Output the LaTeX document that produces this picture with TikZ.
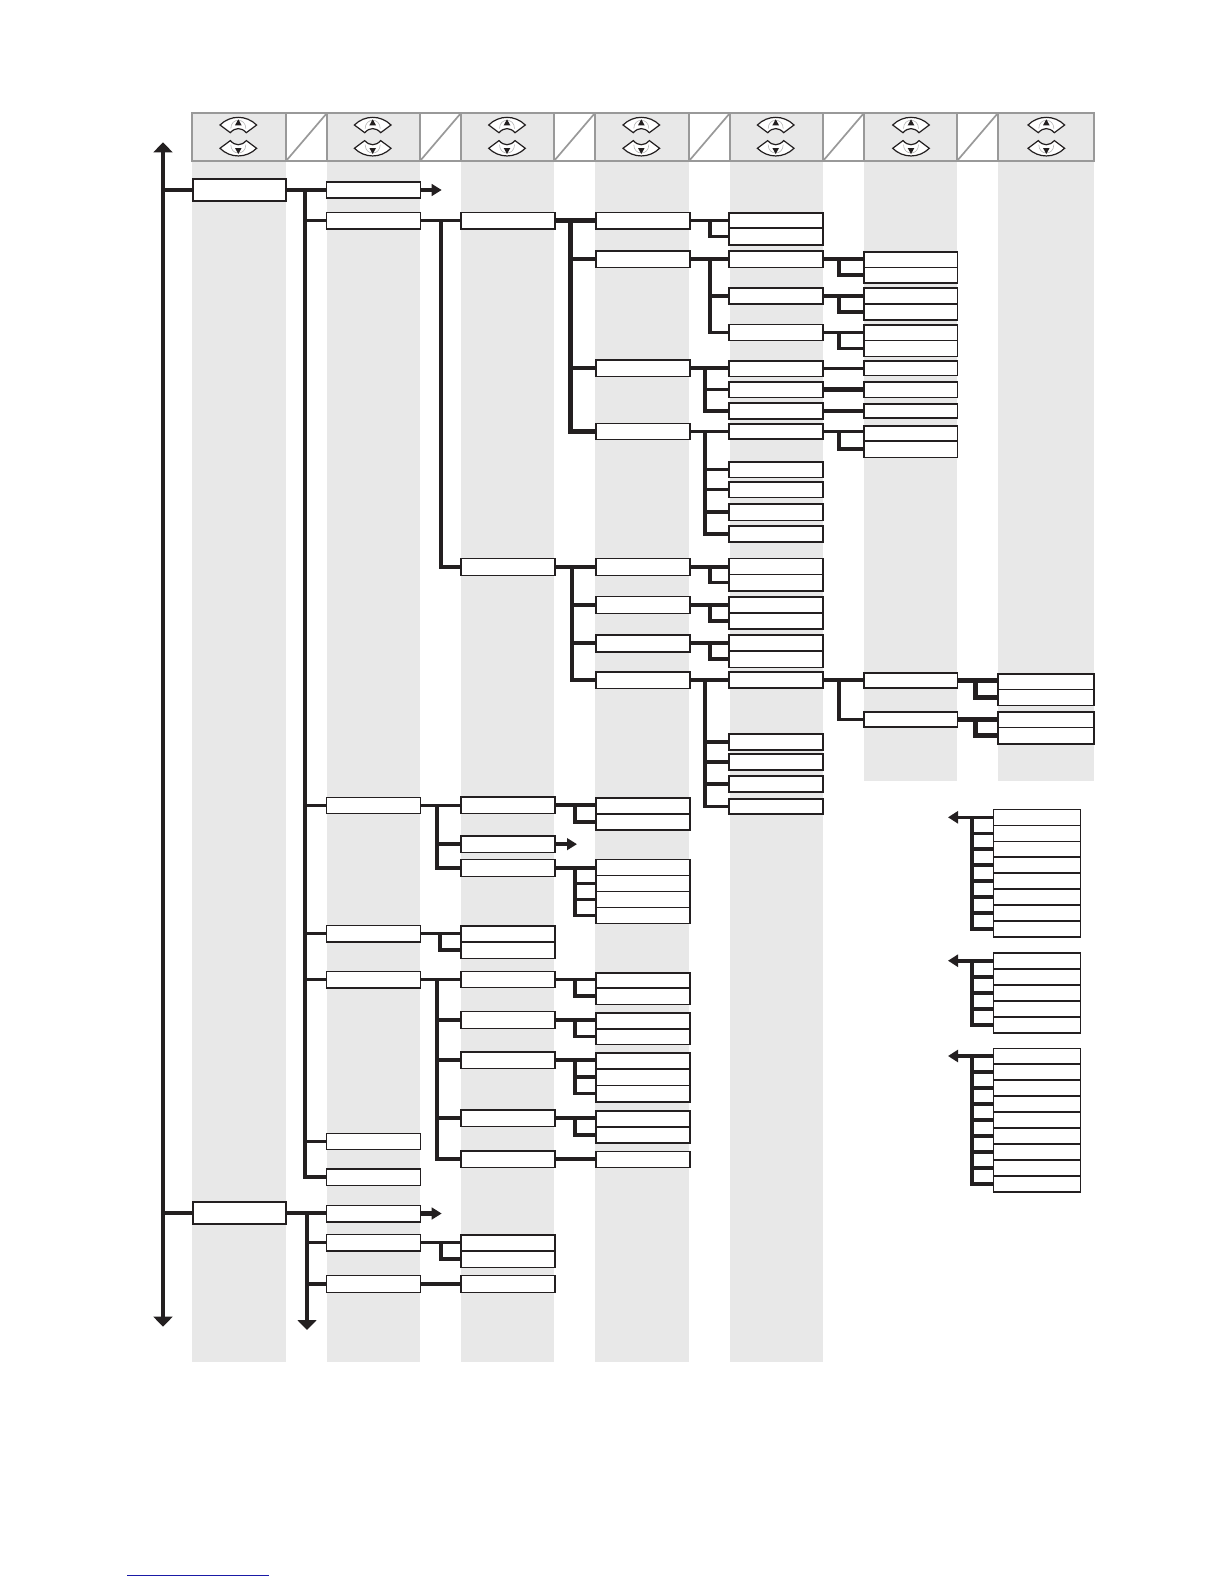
\documentclass[tikz,border=0pt]{standalone}
\usetikzlibrary{arrows.meta,calc}
\definecolor{ink}{HTML}{231F20}
\definecolor{band}{HTML}{E8E8E8}
\definecolor{rule}{HTML}{999999}
\definecolor{linkblue}{HTML}{1A1AA6}
% column edges (px)
\def\xAl{193}\def\xAr{286}
\def\xBl{326.3}\def\xBr{420.3}
\def\xCl{461}\def\xCr{554.7}
\def\xDl{596}\def\xDr{690}
\def\xEl{729}\def\xEr{823}
\def\xFl{864}\def\xFr{957.5}
\def\xGl{998}\def\xGr{1094}
\def\xRl{993.3}\def\xRr{1080.5}
\tikzset{
  cellbox/.style={draw=ink,fill=white,line width=.8pt,inner sep=0pt,outer sep=0pt},
  wire/.style={draw=ink,line width=1.8pt},
  heavy/.style={line width=2.3pt},
  bandfill/.style={fill=band,draw=none},
  headrule/.style={draw=rule,line width=.85pt},
  bighead/.style={-{Triangle[length=5pt,width=9.4pt]}},
  smallhead/.style={-{Triangle[length=5pt,width=5.8pt]}},
}
\newcommand{\cell}[4]{%
  \node[cellbox,
    minimum width={(\csname x#2r\endcsname-\csname x#2l\endcsname)*0.5pt},
    minimum height={(#4-#3)*0.5pt}]
    (#1) at ({(\csname x#2l\endcsname+\csname x#2r\endcsname)/2},{(#3+#4)/2}) {};}
\newcommand{\fan}[4][]{%
  \coordinate (T) at (#3,0);
  \foreach \ch [count=\n] in {#4} {%
    \ifnum\n=1
      \draw[wire,#1] (#2.east) -- (#2.east -| \ch.west);
    \else
      \draw[wire,#1] (T |- #2.east) |- (\ch.west);
    \fi}}
\newcommand{\straight}[3][]{\draw[wire,#1] (#2.east) -- (#2.east -| #3.west);}
\newcommand{\leftfan}[3]{%
  \coordinate (T) at (#2,0);
  \foreach \ch in {#3} {\draw[wire] (T |- #1.west) |- (\ch.west);}}
\newcommand{\fanshape}{%
  \fill[white] (-18.3,0) .. controls (-8,-10.2) and (8,-10.2) .. (18.3,0)
    -- (8,7.7) .. controls (3,2.2) and (-3,2.2) .. (-8,7.7) -- cycle;
  \draw[rule!70,line width=.3pt] (-7.5,3.6) .. controls (-7.5,-7.5) and (7.5,-7.5) .. (7.5,3.6);
  \draw[ink,line width=.6pt,line join=miter] (-18.3,0) .. controls (-8,-10.2) and (8,-10.2) .. (18.3,0)
    -- (8,7.7) .. controls (3,2.2) and (-3,2.2) .. (-8,7.7) -- cycle;
  \fill[ink] (0,-5.7) -- (3.3,.3) -- (-3.3,.3) -- cycle;}
\newcommand{\keypair}[1]{%
  \begin{scope}[shift={(#1,125)}]\fanshape\end{scope}
  \begin{scope}[shift={(#1,148.3)},yscale=-1]\fanshape\end{scope}}
\begin{document}
\begin{tikzpicture}[x=0.5pt,y=-0.5pt]
\useasboundingbox (0,0) rectangle (1224,1584);
% grey column bands
\foreach \l/\r in {192/286,327/420,461/554,595/689,730/823}
  \path[bandfill] (\l,113) rectangle (\r,1362);
\foreach \l/\r in {864/957,998/1094}
  \path[bandfill] (\l,113) rectangle (\r,781);
% header strip
\draw[headrule] (192,113) rectangle (1094,161);
\foreach \x in {286,327,420,461,554,595,689,730,823,864,957,998}
  \draw[headrule] (\x,113) -- (\x,161);
\foreach \l/\r in {286/327,420/461,554/595,689/730,823/864,957/998}
  \draw[headrule] (\l,161) -- (\r,113);
\draw[headrule,line width=1.1pt] (1094,113) -- (1094,161);
\foreach \c in {238.3,372.7,507,641.3,775.7,911,1046.3} {\keypair{\c}}
% column 1
\cell{ca}{A}{179}{201}
\cell{cb}{A}{1201.7}{1224}
% column 2
\cell{da}{B}{182}{198}
\cell{db}{B}{212.3}{229}
\cell{dc}{B}{797.3}{813.3}
\cell{dd}{B}{925.3}{942}
\cell{de}{B}{971.3}{988}
\cell{df}{B}{1133.3}{1149.3}
\cell{dg}{B}{1169}{1185.3}
\cell{dh}{B}{1205.3}{1221.7}
\cell{di}{B}{1234.3}{1251}
\cell{dj}{B}{1275.3}{1292.3}
% column 3
\cell{ea}{C}{212.3}{229}
\cell{eb}{C}{558.3}{575.3}
\cell{ec}{C}{796.7}{813.3}
\cell{ed}{C}{836}{852.3}
\cell{ee}{C}{859.3}{876.3}
\cell{ef}{C}{925.7}{942}
\cell{eg}{C}{942}{958.3}
\cell{eh}{C}{971.3}{987.3}
\cell{ei}{C}{1011.3}{1028.3}
\cell{ej}{C}{1051.7}{1068.3}
\cell{ek}{C}{1109.7}{1126.3}
\cell{el}{C}{1150.7}{1167.3}
\cell{em}{C}{1234.7}{1250.7}
\cell{en}{C}{1250.7}{1267.3}
\cell{eo}{C}{1275.3}{1292.3}
% column 4
\cell{fa}{D}{212.3}{229}
\cell{fb}{D}{251}{267.3}
\cell{fc}{D}{359.7}{376.3}
\cell{fd}{D}{423.3}{439.3}
\cell{fe}{D}{558.3}{575.3}
\cell{ff}{D}{596.3}{613.3}
\cell{fg}{D}{634.7}{651.7}
\cell{fh}{D}{671.7}{688.3}
\cell{fi}{D}{797.7}{813.7}
\cell{fj}{D}{813.7}{830}
\cell{fk}{D}{859.3}{875.3}
\cell{fl}{D}{875.3}{891.3}
\cell{fm}{D}{891.3}{907.3}
\cell{fn}{D}{907.3}{923.3}
\cell{fo}{D}{972.7}{988}
\cell{fp}{D}{988}{1004.3}
\cell{fq}{D}{1012.7}{1028.7}
\cell{fr}{D}{1028.7}{1044.3}
\cell{fs}{D}{1053}{1069}
\cell{ft}{D}{1069}{1085.3}
\cell{fu}{D}{1085.3}{1102}
\cell{fv}{D}{1111}{1126.7}
\cell{fw}{D}{1126.7}{1143}
\cell{fx}{D}{1151.3}{1167.3}
% column 5
\cell{ga}{E}{213}{228}
\cell{gA}{E}{228}{245}
\cell{gb}{E}{251}{267.3}
\cell{gc}{E}{287.7}{304}
\cell{gd}{E}{324.3}{340.3}
\cell{ge}{E}{360.7}{376.3}
\cell{gf}{E}{381.7}{397.3}
\cell{gg}{E}{402.7}{419}
\cell{gh}{E}{423.7}{439}
\cell{gi}{E}{461.7}{477.3}
\cell{gj}{E}{482}{497.3}
\cell{gk}{E}{504}{520.3}
\cell{gl}{E}{526}{542}
\cell{gm}{E}{558.3}{574.3}
\cell{gM}{E}{574.3}{591}
\cell{gn}{E}{596.7}{612.7}
\cell{gN}{E}{612.7}{629}
\cell{go}{E}{635}{650.7}
\cell{gO}{E}{650.7}{667.3}
\cell{gp}{E}{672}{688}
\cell{gq}{E}{734}{750}
\cell{gr}{E}{754}{770}
\cell{gs}{E}{775.7}{792}
\cell{gt}{E}{798.7}{814}
% column 6
\cell{ha}{F}{251.7}{267.3}
\cell{hA}{F}{267.3}{283}
\cell{hb}{F}{288}{304}
\cell{hB}{F}{304}{320}
\cell{hc}{F}{324.7}{340.3}
\cell{hC}{F}{340.3}{356.3}
\cell{hd}{F}{360.7}{375.3}
\cell{he}{F}{382}{397.3}
\cell{hf}{F}{403.7}{418}
\cell{hg}{F}{425.7}{441}
\cell{hG}{F}{441}{457.3}
\cell{hh}{F}{672.7}{688}
\cell{hi}{F}{711.7}{727}
% column 7
\cell{ia}{G}{673.7}{689.3}
\cell{iA}{G}{689.3}{705.3}
\cell{ib}{G}{712}{727.3}
\cell{iB}{G}{727.3}{744}
% right-hand lists
\cell{ra}{R}{809.3}{825.3}
\cell{rb}{R}{825.3}{841.3}
\cell{rc}{R}{841.3}{857}
\cell{rd}{R}{857}{873}
\cell{re}{R}{873}{889}
\cell{rf}{R}{889}{905}
\cell{rg}{R}{905}{921}
\cell{rh}{R}{921}{936.7}
\cell{sa}{R}{952.7}{968.7}
\cell{sb}{R}{968.7}{985}
\cell{sc}{R}{985}{1000.7}
\cell{sd}{R}{1000.7}{1016.7}
\cell{se}{R}{1016.7}{1032.7}
\cell{ta}{R}{1048.3}{1063.7}
\cell{tb}{R}{1063.7}{1079.7}
\cell{tc}{R}{1079.7}{1095.7}
\cell{td}{R}{1095.7}{1111.7}
\cell{te}{R}{1111.7}{1127.7}
\cell{tf}{R}{1127.7}{1143.7}
\cell{tg}{R}{1143.7}{1159.7}
\cell{th}{R}{1159.7}{1175.7}
\cell{ti}{R}{1175.7}{1192}
% main trunk
\coordinate (mtop) at (163,142.3);
\coordinate (mbot) at (163,1326.7);
\draw[wire,{Triangle[length=5pt,width=9.4pt]}-{Triangle[length=5pt,width=9.4pt]}] (mtop) -- (mbot);
\draw[wire] (mtop |- ca.west) -- (ca.west);
\draw[wire] (mtop |- cb.west) -- (cb.west);
% column 1 to 2
\straight[heavy]{ca}{da}
\fan{ca}{305}{da,db,dc,dd,de,df,dg}
\coordinate (darrow) at (441.7,0);
\draw[wire,heavy,smallhead] (da.east) -- (darrow |- da.east);
\straight[heavy]{cb}{dh}
\fan{cb}{307}{dh,di,dj}
\coordinate (dbot) at (307,1330);
\draw[wire,bighead] (dbot |- cb.east) -- (dbot);
\draw[wire,heavy,smallhead] (dh.east) -- (darrow |- dh.east);
% column 2 to 3
\fan{db}{441}{ea,eb}
\fan{dc}{437}{ec,ed,ee}
\fan{dd}{440}{ef,eg}
\fan{de}{437}{eh,ei,ej,ek,el}
\fan{di}{440.7}{em,en}
\straight{dj}{eo}
% column 3 to 4
\fan[heavy]{ea}{570.5}{fa,fb,fc,fd}
\fan{eb}{572}{fe,ff,fg,fh}
\fan{ec}{575}{fi,fj}
\coordinate (earrow) at (577,0);
\draw[wire,smallhead] (ed.east) -- (earrow |- ed.east);
\fan{ee}{575}{fk,fl,fm,fn}
\fan{eh}{575}{fo,fp}
\fan{ei}{575}{fq,fr}
\fan{ej}{575}{fs,ft,fu}
\fan{ek}{575}{fv,fw}
\straight{el}{fx}
% column 4 to 5
\fan{fa}{710}{ga,gA}
\fan{fb}{710}{gb,gc,gd}
\fan{fc}{705}{ge,gf,gg}
\fan{fd}{705}{gh,gi,gj,gk,gl}
\fan{fe}{710}{gm,gM}
\fan{ff}{710}{gn,gN}
\fan{fg}{710}{go,gO}
\fan{fh}{705}{gp,gq,gr,gs,gt}
% column 5 to 6
\fan{gb}{839}{ha,hA}
\fan{gc}{839}{hb,hB}
\fan{gd}{839}{hc,hC}
\straight{ge}{hd}
\straight[heavy]{gf}{he}
\straight{gg}{hf}
\fan{gh}{839}{hg,hG}
\fan{gp}{839}{hh,hi}
% column 6 to 7
\fan[heavy]{hh}{975.7}{ia,iA}
\fan[heavy]{hi}{975.7}{ib,iB}
% right-hand lists
\coordinate (rtip) at (948,0);
\draw[wire,-{Triangle[length=5pt,width=6pt]}] (ra.west) -- (rtip |- ra.west);
\leftfan{ra}{972}{rb,rc,rd,re,rf,rg,rh}
\draw[wire,-{Triangle[length=5pt,width=6pt]}] (sa.west) -- (rtip |- sa.west);
\leftfan{sa}{972}{sb,sc,sd,se}
\draw[wire,-{Triangle[length=5pt,width=6pt]}] (ta.west) -- (rtip |- ta.west);
\leftfan{ta}{972}{tb,tc,td,te,tf,tg,th,ti}
% footer rule
\draw[linkblue,line width=.5pt] (127,1575) -- (269,1575);
\end{tikzpicture}
\end{document}
